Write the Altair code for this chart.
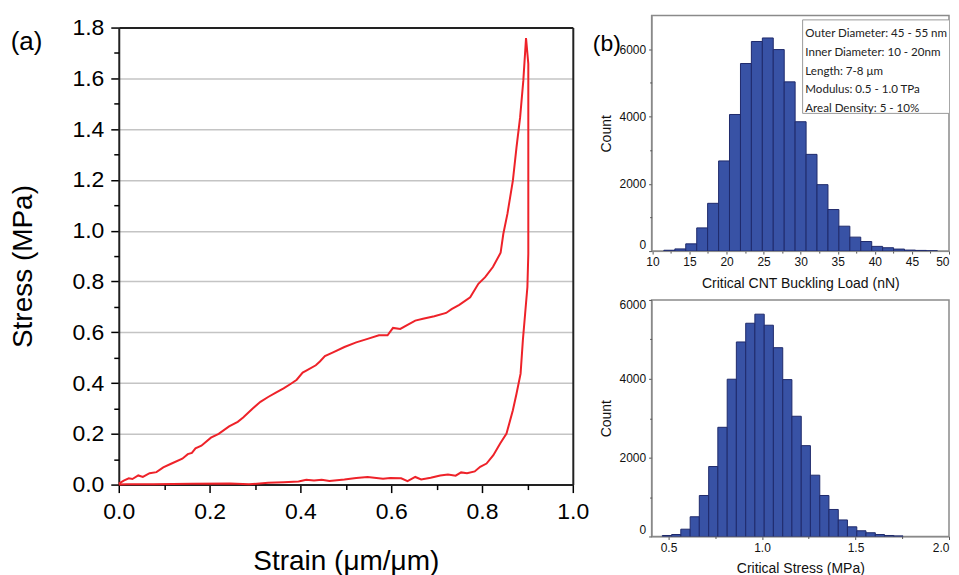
import altair as alt
import pandas as pd

# ---------------- data: stress-strain loop (panel a) ----------------
load_strain = [0.000, 0.011, 0.022, 0.030, 0.043, 0.053, 0.068, 0.083, 0.098, 0.114,
               0.140, 0.152, 0.161, 0.169, 0.182, 0.203, 0.220, 0.243, 0.262, 0.274,
               0.295, 0.312, 0.329, 0.346, 0.363, 0.380, 0.392, 0.405, 0.413, 0.434,
               0.443, 0.454, 0.472, 0.497, 0.523, 0.548, 0.573, 0.592, 0.604, 0.620,
               0.636, 0.653, 0.670, 0.695, 0.721, 0.733, 0.750, 0.774, 0.792, 0.807,
               0.824, 0.841, 0.847, 0.856, 0.868, 0.876, 0.884, 0.891, 0.897]
load_stress = [0.004, 0.016, 0.025, 0.022, 0.036, 0.030, 0.045, 0.049, 0.068, 0.081,
               0.102, 0.120, 0.125, 0.143, 0.153, 0.185, 0.200, 0.229, 0.247, 0.264,
               0.300, 0.326, 0.345, 0.362, 0.379, 0.398, 0.413, 0.441, 0.449, 0.470,
               0.485, 0.506, 0.521, 0.542, 0.560, 0.574, 0.588, 0.588, 0.617, 0.613,
               0.629, 0.646, 0.653, 0.663, 0.676, 0.691, 0.708, 0.738, 0.791, 0.817,
               0.857, 0.913, 0.988, 1.066, 1.197, 1.328, 1.447, 1.591, 1.759]
unload_strain = [0.902, 0.902, 0.902, 0.900, 0.895, 0.890, 0.885, 0.876, 0.868, 0.854,
                 0.840, 0.825, 0.810, 0.796, 0.784, 0.767, 0.754, 0.742, 0.725, 0.708,
                 0.687, 0.666, 0.653, 0.636, 0.622, 0.598, 0.582, 0.548, 0.523, 0.497,
                 0.464, 0.447, 0.430, 0.413, 0.396, 0.363, 0.329, 0.287, 0.245, 0.161,
                 0.077, 0.018, 0.000]
unload_stress = [1.657, 1.300, 0.909, 0.778, 0.673, 0.568, 0.437, 0.358, 0.293, 0.201,
                 0.162, 0.116, 0.083, 0.070, 0.052, 0.045, 0.048, 0.035, 0.040, 0.036,
                 0.027, 0.020, 0.030, 0.014, 0.025, 0.026, 0.023, 0.030, 0.026, 0.020,
                 0.014, 0.019, 0.016, 0.019, 0.012, 0.009, 0.007, 0.001, 0.004, 0.003,
                 0.001, 0.001, 0.000]

# ---------------- data: histograms (panel b) ----------------
load_edges = [11.55, 13.03, 14.50, 15.98, 17.45, 18.93, 20.40, 21.88, 23.35, 24.83,
              26.30, 27.78, 29.25, 30.73, 32.20, 33.68, 35.15, 36.63, 38.10, 39.58,
              41.05, 42.53, 44.00, 45.48, 46.95, 48.43]
load_counts = [25, 65, 215, 690, 1420, 2680, 4060, 5575, 6230, 6335, 5990, 5030, 3845,
               2875, 1975, 1235, 740, 415, 285, 140, 100, 60, 30, 20, 10]

stress_edges = [0.467, 0.517, 0.566, 0.616, 0.665, 0.715, 0.764, 0.814, 0.863, 0.913,
                0.962, 1.012, 1.061, 1.111, 1.160, 1.210, 1.259, 1.309, 1.358, 1.408,
                1.457, 1.507, 1.556, 1.606, 1.655, 1.705, 1.754]
stress_counts = [25, 50, 185, 500, 1040, 1775, 2770, 3990, 4935, 5410, 5640, 5360, 4790,
                 3980, 3050, 2305, 1555, 1040, 685, 420, 245, 145, 95, 50, 25, 15]

legend_lines = ["Outer Diameter: 45 - 55 nm", "Inner Diameter: 10 - 20nm",
                "Length: 7-8 \u03bcm", "Modulus: 0.5 - 1.0 TPa", "Areal Density: 5 - 10%"]

y_major_a = [0.0, 0.2, 0.4, 0.6, 0.8, 1.0, 1.2, 1.4, 1.6, 1.8]
y_minor_a = [0.1, 0.3, 0.5, 0.7, 0.9, 1.1, 1.3, 1.5, 1.7]
x_major_a = [0.0, 0.2, 0.4, 0.6, 0.8, 1.0]
x_minor_a = [0.1, 0.3, 0.5, 0.7, 0.9]

# ---------------- tables ----------------
strain = load_strain + unload_strain
stress = load_stress + unload_stress
curve = pd.DataFrame({"strain": strain, "stress": stress, "idx": list(range(len(strain)))})

hist_top = pd.DataFrame({"x0": load_edges[:-1], "x1": load_edges[1:], "count": load_counts})
hist_bot = pd.DataFrame({"x0": stress_edges[:-1], "x1": stress_edges[1:], "count": stress_counts})

FONT = "Liberation Sans"
RED = "#ee2229"
BAR = "#3852a5"
BAR_EDGE = "#1f2a6b"
FRAME = "#8a8a8a"
DARK = "#222"

# ---------------- panel (a) ----------------
HA = 470      # full panel height (frame top sits 12px below the group top)
TOPGAP = 12
xs_a = alt.Scale(domain=[0, 1], nice=False, zero=False)
ys_a = alt.Scale(domain=[0, 1.8], nice=False, zero=False, range=[HA, TOPGAP])

line = alt.Chart(curve).mark_line(color=RED, strokeWidth=2).encode(
    x=alt.X("strain:Q", scale=xs_a, axis=alt.Axis(
        values=x_major_a, format=".1f", orient="bottom", title="Strain (\u03bcm/\u03bcm)",
        labelFont=FONT, labelFontSize=23, labelColor="#000", labelPadding=8, labelFlush=False,
        tickSize=8, tickWidth=1.5, tickColor="#000", domainColor=DARK, domainWidth=2,
        grid=False, titleFont=FONT, titleFontSize=28, titleFontWeight="normal",
        titleColor="#000", titlePadding=24)),
    y=alt.Y("stress:Q", scale=ys_a, axis=alt.Axis(
        values=y_major_a, format=".1f", orient="left", title="Stress (MPa)",
        labelFont=FONT, labelFontSize=23, labelColor="#000", labelPadding=7,
        tickSize=8, tickWidth=1.5, tickColor="#000", domainColor=DARK, domainWidth=2,
        grid=True, gridColor="#c4c4c4", gridWidth=1.5,
        titleFont=FONT, titleFontSize=28, titleFontWeight="normal",
        titleColor="#000", titlePadding=34, titleY=251)),
    order="idx:Q",
)
minor_a = alt.Chart(curve).mark_point(opacity=0).encode(
    x=alt.X("strain:Q", scale=xs_a, axis=alt.Axis(
        values=x_minor_a, orient="bottom", labels=False, title=None, domain=False,
        grid=False, tickSize=5, tickWidth=1.5, tickColor="#000")),
    y=alt.Y("stress:Q", scale=ys_a, axis=alt.Axis(
        values=y_minor_a, orient="left", labels=False, title=None, domain=False,
        grid=False, tickSize=5, tickWidth=1.5, tickColor="#000")),
)
frame_a = alt.Chart(curve).mark_point(opacity=0).encode(
    x=alt.X("strain:Q", scale=xs_a, axis=alt.Axis(
        orient="top", offset=-TOPGAP, labels=False, ticks=False, title=None, grid=False,
        domain=True, domainColor=DARK, domainWidth=2)),
    y=alt.Y("stress:Q", scale=ys_a, axis=alt.Axis(
        orient="right", labels=False, ticks=False, title=None, grid=False,
        domain=True, domainColor=DARK, domainWidth=2)),
)
tag_a = alt.Chart(pd.DataFrame({"t": ["(a)"]})).mark_text(
    font=FONT, fontSize=26, align="left", baseline="middle", color="#000"
).encode(x=alt.value(-108.3), y=alt.value(TOPGAP + 14), text="t:N")

panel_a = alt.layer(line, minor_a, frame_a, tag_a).resolve_axis(
    x="independent", y="independent"
).properties(width=455, height=HA, view=alt.ViewBackground(strokeOpacity=0))

# ---------------- panel (b) ----------------
W = 298
HX = dict(labelFont=FONT, labelFontSize=12, labelColor="#111", tickSize=3, tickColor="#555",
          domainColor=FRAME, titleFont=FONT, titleFontSize=14, titleFontWeight="normal",
          titleColor="#111", grid=False, labelFlush=0.5)


def hist(df, xdom, xmaj, xmin, xfmt, xtitle, ydom, ypad_title, xlab_pad, xtitle_pad, tag_opacity):
    xs = alt.Scale(domain=xdom, nice=False, zero=False)
    ys = alt.Scale(domain=ydom, nice=False)
    bars = alt.Chart(df).mark_rect(fill=BAR, stroke=BAR_EDGE, strokeWidth=1, clip=True).encode(
        x=alt.X("x0:Q", scale=xs, axis=alt.Axis(values=xmaj, format=xfmt, orient="bottom",
                                                title=xtitle, labelPadding=xlab_pad,
                                                titlePadding=xtitle_pad, **HX)),
        x2="x1:Q",
        y=alt.Y("count:Q", scale=ys, axis=alt.Axis(values=[0, 2000, 4000, 6000], format="d",
                                                   orient="left", title="Count",
                                                   labelPadding=3, titlePadding=ypad_title, **HX)),
        y2=alt.datum(0),
    )
    minor = alt.Chart(df).mark_point(opacity=0).encode(
        x=alt.X("x0:Q", scale=xs, axis=alt.Axis(values=xmin, orient="bottom", labels=False,
                                                title=None, domain=False, grid=False,
                                                tickSize=2, tickColor="#555")),
        y=alt.Y("count:Q", scale=ys, axis=alt.Axis(values=[1000, 3000, 5000], orient="left",
                                                   labels=False, title=None, domain=False,
                                                   grid=False, tickSize=2, tickColor="#555")),
    )
    tag = alt.Chart(pd.DataFrame({"t": ["(b)"]})).mark_text(
        font=FONT, fontSize=23, align="left", baseline="middle", color="#000",
        opacity=tag_opacity
    ).encode(x=alt.value(-59), y=alt.value(28), text="t:N")
    return [bars, minor, tag]


top_layers = hist(hist_top, [9.9, 50], [10, 15, 20, 25, 30, 35, 40, 45, 50],
                  [12.5, 17.5, 22.5, 27.5, 32.5, 37.5, 42.5, 47.5], "d",
                  "Critical CNT Buckling Load (nN)", [0, 7000], 6, 2.5, 9, 1)

box = alt.Chart(pd.DataFrame({"k": [0]})).mark_rect(
    fill="white", stroke="#9a9a9a", strokeWidth=1, clip=True
).encode(x=alt.value(151.3), x2=alt.value(340), y=alt.value(4.3), y2=alt.value(98))
legend_text = alt.Chart(pd.DataFrame({"k": [0]})).mark_text(
    font="Lato", fontSize=11.6, align="left", baseline="top", color="#222",
    lineHeight=18.8, text=legend_lines, clip=True
).encode(x=alt.value(154), y=alt.value(12.6))

panel_b_top = alt.layer(*top_layers, box, legend_text).resolve_axis(
    x="independent", y="independent"
).properties(width=W, height=236, view=alt.ViewBackground(stroke=FRAME, strokeWidth=1.5))

bot_layers = hist(hist_bot, [0.41, 2.0], [0.5, 1.0, 1.5, 2.0],
                  [0.75, 1.25, 1.75], ".1f", "Critical Stress (MPa)", [0, 6000], 6, 3, 8.4, 0)
panel_b_bot = alt.layer(*bot_layers).resolve_axis(
    x="independent", y="independent"
).properties(width=W, height=237, view=alt.ViewBackground(stroke=FRAME, strokeWidth=1.5))

right = alt.vconcat(panel_b_top, panel_b_bot, spacing=6)

chart = alt.hconcat(panel_a, right, spacing=3).properties(
    padding={"left": 2, "top": 6, "right": 0, "bottom": 0},
    background="white",
)

chart.save("out.html", embed_options={"renderer": "svg", "actions": False})
